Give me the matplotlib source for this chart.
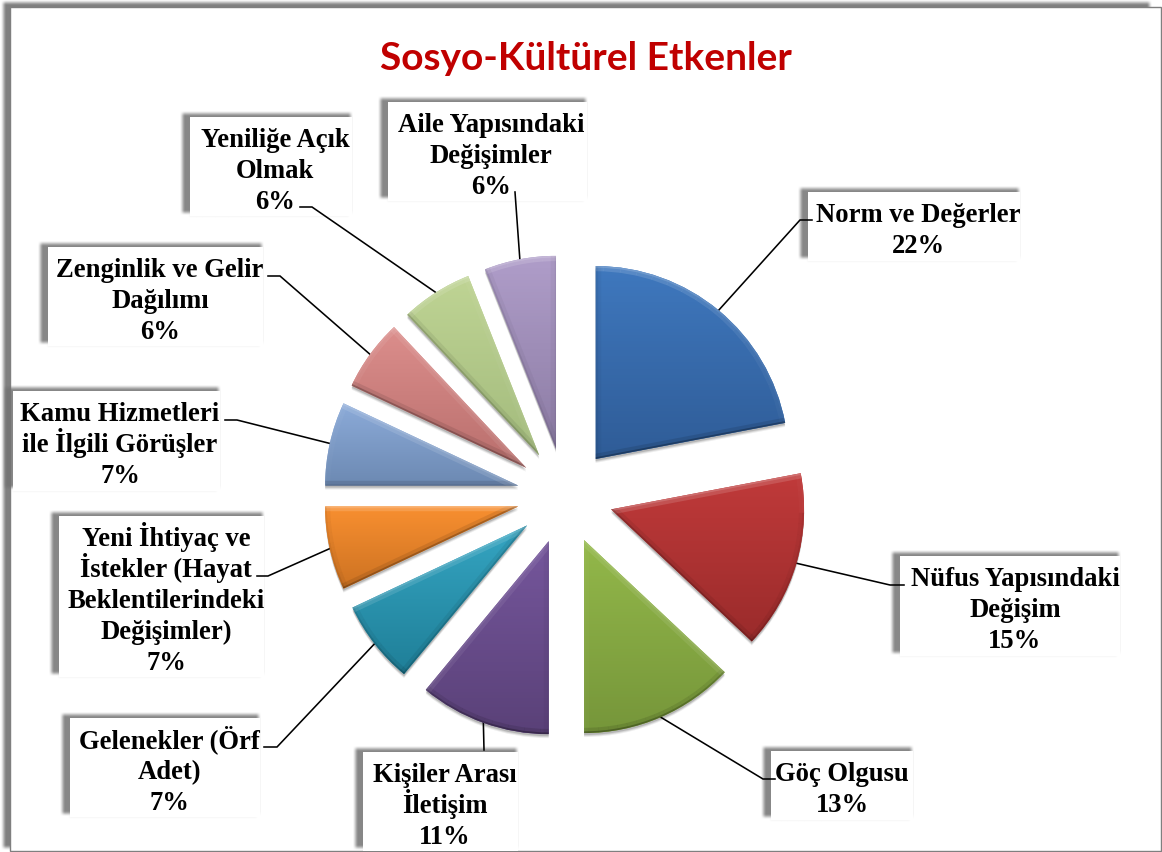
import numpy as np
import matplotlib
matplotlib.use("Agg")
import matplotlib.pyplot as plt
from matplotlib.collections import LineCollection
from matplotlib.colors import to_rgb
from matplotlib.patches import Polygon, Rectangle

W, H = 1162, 853

# Data
names = ["Norm ve Değerler", "Nüfus Yapısındaki\nDeğişim", "Göç Olgusu",
         "Kişiler Arası\nİletişim", "Gelenekler (Örf\nAdet)",
         "Yeni İhtiyaç ve\nİstekler (Hayat\nBeklentilerindeki\nDeğişimler)",
         "Kamu Hizmetleri\nile İlgili Görüşler", "Zenginlik ve Gelir\nDağılımı",
         "Yeniliğe Açık\nOlmak", "Aile Yapısındaki\nDeğişimler"]
values = [22, 15, 13, 11, 7, 7, 7, 6, 6, 6]
top_colors = ["#3F78BE", "#C03A3A", "#93B84A", "#75569C", "#35A5C2",
              "#F88F30", "#8CABD9", "#DC8E8C", "#BFD494", "#AF9DC9"]
bottom_colors = ["#2F5C97", "#9A2B2B", "#76963A", "#5A4178", "#1F7F98",
                 "#CC7222", "#6C89B2", "#B96F6D", "#A3BB7D", "#8C7CA4"]

# label boxes: left, top, right, bottom in pixels from the top left
boxes = [(808, 193, 1020, 262), (900, 557, 1120, 657), (771, 752, 913, 821),
         (363, 753, 518, 852), (70, 719, 260, 818), (59, 517, 264, 678),
         (13, 392, 220, 492), (48, 248, 263, 347), (190, 118, 352, 217),
         (388, 103, 587, 202)]
text_x = [918, 1015, 842, 445, 169, 166, 120, 160, 275, 491]
# leader line: elbow and end next to the label
elbows = [(800, 221), (890, 586), (763, 780), None, (277, 748), (268, 577),
          (237, 421), (280, 277), (312, 208), None]
ends = [(812, 221), (904, 586), (775, 780), (484, 751), (264, 748), (257, 577),
        (225, 421), (268, 277), (300, 208), (515, 193)]

cx, cy, radius, offset = 565, 497, 193, 48
line_pitch = 31


def py(y):
    return H - y


def ramp(v, a, b, blur):
    up = np.clip((v - a) / blur + 0.5, 0, 1)
    down = np.clip((b - v) / blur + 0.5, 0, 1)
    return up * up * (3 - 2 * up) * down * down * (3 - 2 * down)


def soft_rect(ax, x0, y0, x1, y1, blur, gray, strength, z):
    xs = np.arange(x0 - blur, x1 + blur + 1)
    ys = np.arange(y0 - blur, y1 + blur + 1)
    alpha = np.outer(ramp(ys, y0, y1, blur), ramp(xs, x0, x1, blur)) * strength
    img = np.full(alpha.shape + (4,), gray, dtype=float)
    img[..., 3] = alpha
    ax.imshow(img, extent=(xs[0], xs[-1], py(ys[-1]), py(ys[0])), zorder=z,
              interpolation="bilinear", aspect="auto")


fig = plt.figure(figsize=(W / 100, H / 100), dpi=100, facecolor="white")
ax = fig.add_axes([0, 0, 1, 1])

# outer frame with its shadow
soft_rect(ax, 3, 3, 1150, 849, 6, 0.45, 0.9, 0)
ax.add_patch(Rectangle((10, py(852)), 1151, 844, fc="white", ec="#7f7f7f", lw=1.0, zorder=1))

wedges, _ = ax.pie(values, explode=[offset] * len(values), radius=radius,
                   center=(cx, py(cy)), startangle=90, counterclock=False, frame=True,
                   wedgeprops={"linewidth": 0})

# leader lines, from the middle of each outer arc
total = sum(values)
edges = np.cumsum([0] + values)
for i, v in enumerate(values):
    mid = (edges[i] + v / 2) / total * 2 * np.pi
    sx = cx + (radius + offset) * np.sin(mid)
    sy = cy - (radius + offset) * np.cos(mid)
    pts = [(sx, sy)]
    if elbows[i] is not None:
        pts.append(elbows[i])
    pts.append(ends[i])
    ax.plot([p[0] for p in pts], [py(p[1]) for p in pts], color="black", lw=1.15,
            zorder=4, solid_joinstyle="miter")

# slices: soft shadow, vertical gradient, bevel along the outline
for i, w in enumerate(wedges):
    poly = w.get_path().to_polygons()[0]
    for k, a in zip([4, 3, 2], [0.07, 0.10, 0.14]):
        ax.add_patch(Polygon(poly - [0, k], closed=True, fc="black", ec="none", alpha=a, zorder=4.5))
    w.set_zorder(5)
    w.set_facecolor(top_colors[i])

    x0, y0 = poly.min(axis=0)
    x1, y1 = poly.max(axis=0)
    t = np.linspace(0, 1, 64)[:, None]
    grad = (1 - t) * np.array(to_rgb(top_colors[i])) + t * np.array(to_rgb(bottom_colors[i]))
    im = ax.imshow(grad[:, None, :], extent=(x0, x1, y0, y1), zorder=5.1, aspect="auto")
    im.set_clip_path(w)

    centre = poly.mean(axis=0)
    segs, wide, thin = [], [], []
    for a, b in zip(poly[:-1], poly[1:]):
        d = b - a
        if np.hypot(*d) < 1e-6:
            continue
        n = np.array([d[1], -d[0]]) / np.hypot(*d)
        if np.dot(n, (a + b) / 2 - centre) < 0:
            n = -n
        up = n[1]
        segs.append([a, b])
        if up > 0:
            wide.append((1, 1, 1, 0.02 + 0.12 * up ** 2))
            thin.append((1, 1, 1, 0.02 + 0.14 * up ** 2))
        else:
            wide.append((0, 0, 0, 0.03 + 0.08 * up ** 2))
            thin.append((0, 0, 0, 0.05 + 0.22 * up ** 2))
    for cols, lw in [(wide, 7.5), (thin, 2.5)]:
        lc = LineCollection(segs, colors=cols, linewidths=lw, zorder=5.2, capstyle="butt")
        ax.add_collection(lc)
        lc.set_clip_path(w)

# label boxes, one text per line to keep the pitch even
for i, (name, v) in enumerate(zip(names, values)):
    left, top, right, bottom = boxes[i]
    soft_rect(ax, left - 8, top - 4, right - 1, bottom - 3, 6, 0.45, 0.85, 2)
    soft_rect(ax, left - 1, bottom - 1, right - 3, bottom + 1, 3, 0.6, 0.10, 2.1)
    ax.add_patch(Rectangle((left, py(bottom)), right - left, bottom - top, fc="white", ec="none", zorder=3))
    for k, line in enumerate(f"{name}\n{v}%".split("\n")):
        ax.text(text_x[i], py(top + 29 + k * line_pitch), line, ha="center", va="baseline",
                family="Liberation Serif", weight="bold", fontsize=19.2, color="black", zorder=6)

ax.text(586, py(58), "Sosyo-Kültürel Etkenler", ha="center", va="center", family="Lato",
        weight="bold", fontsize=28, color="#C00000", zorder=6)

ax.set_xlim(0, W)
ax.set_ylim(0, H)
ax.set_aspect("auto")
ax.axis("off")
fig.savefig("out.png", dpi=100, facecolor="white")
